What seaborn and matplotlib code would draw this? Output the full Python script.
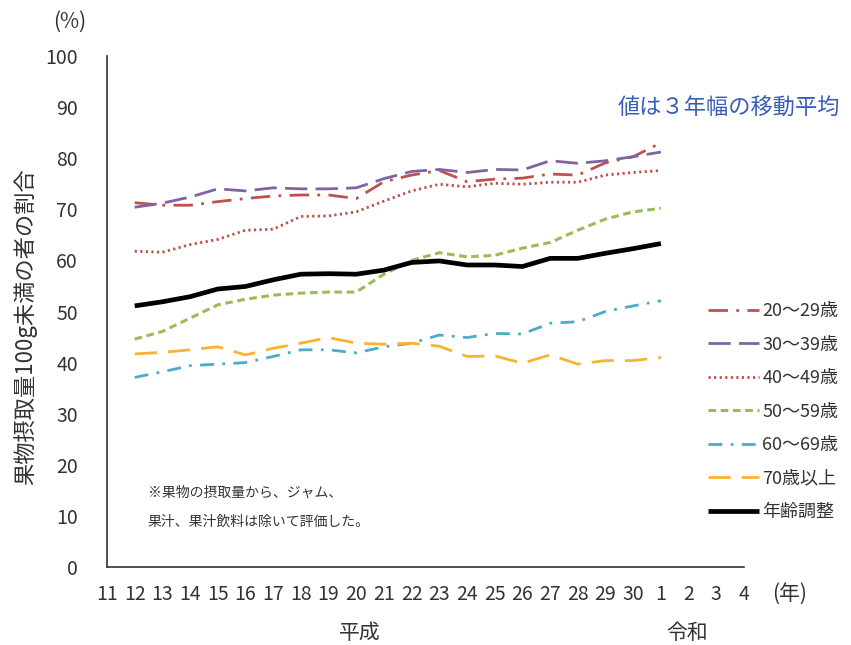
import pandas as pd
import matplotlib
matplotlib.use('Agg')
import matplotlib.pyplot as plt
import seaborn as sns

# --- DATA (3-year moving average) ---
tick_labels = ['11', '12', '13', '14', '15', '16', '17', '18', '19', '20', '21', '22',
               '23', '24', '25', '26', '27', '28', '29', '30', '1', '2', '3', '4']
years = ['12', '13', '14', '15', '16', '17', '18', '19', '20', '21', '22',
         '23', '24', '25', '26', '27', '28', '29', '30', '1']

age_20s = [71.3, 70.8, 70.8, 71.5, 72.1, 72.6, 72.8, 72.8, 72.1, 75.4, 76.7,
           77.6, 75.4, 75.9, 76.1, 76.9, 76.7, 79.1, 80.3, 83.0]
age_30s = [70.4, 71.2, 72.4, 74.0, 73.6, 74.2, 74.0, 74.0, 74.2, 76.0, 77.4,
           77.8, 77.2, 77.8, 77.7, 79.5, 79.0, 79.5, 80.3, 81.2]
age_40s = [61.8, 61.6, 63.1, 64.1, 65.9, 66.1, 68.6, 68.7, 69.5, 71.6, 73.6,
           74.9, 74.4, 75.1, 74.9, 75.3, 75.3, 76.7, 77.2, 77.6]
age_50s = [44.6, 46.1, 48.7, 51.3, 52.4, 53.2, 53.6, 53.8, 53.8, 57.3, 60.0,
           61.5, 60.7, 61.0, 62.4, 63.5, 65.9, 68.1, 69.5, 70.2]
age_60s = [37.1, 38.2, 39.4, 39.7, 40.0, 41.2, 42.5, 42.5, 41.9, 43.1, 43.8,
           45.4, 44.9, 45.7, 45.6, 47.7, 48.0, 50.0, 51.1, 52.1]
age_70p = [41.7, 42.0, 42.5, 43.1, 41.5, 42.8, 43.8, 44.9, 43.8, 43.6, 43.8,
           43.2, 41.2, 41.3, 39.9, 41.5, 39.7, 40.4, 40.4, 41.0]
age_adj = [51.1, 51.9, 52.9, 54.4, 54.9, 56.2, 57.3, 57.4, 57.3, 58.1, 59.6,
           59.9, 59.1, 59.1, 58.8, 60.4, 60.4, 61.4, 62.3, 63.3]

series_names = ['20～29歳', '30～39歳', '40～49歳', '50～59歳', '60～69歳', '70歳以上', '年齢調整']
series_values = [age_20s, age_30s, age_40s, age_50s, age_60s, age_70p, age_adj]

# --- STYLE ---
styles = {
    '20～29歳': dict(color='#C0504D', lw=2.0, ls=(0, (7, 3, 1, 3))),
    '30～39歳': dict(color='#8064A2', lw=2.0, ls=(0, (8, 3))),
    '40～49歳': dict(color='#C0504D', lw=2.0, ls=(0, (0.8, 1.2))),
    '50～59歳': dict(color='#9BBB59', lw=2.2, ls=(0, (2.5, 1.5))),
    '60～69歳': dict(color='#4BACC6', lw=2.0, ls=(0, (5, 3, 1, 3))),
    '70歳以上': dict(color='#F9B233', lw=2.0, ls=(0, (8, 4))),
    '年齢調整': dict(color='black', lw=3.4, ls='-'),
}
text_color = '#333333'

sns.set_style('white')
plt.rcParams['font.family'] = ['Noto Sans CJK JP', 'DejaVu Sans']

fig = plt.figure(figsize=(8.51, 6.45), dpi=100)
ax = fig.add_axes([107 / 851, 1 - 567 / 645, (744 - 107) / 851, (567 - 56) / 645])

for name, vals in zip(series_names, series_values):
    df = pd.DataFrame({'pos': [20 if y == '1' else tick_labels.index(y) for y in years],
                       'val': vals})
    st = styles[name]
    sns.lineplot(data=df, x='pos', y='val', ax=ax, color=st['color'], linewidth=st['lw'],
                 linestyle=st['ls'], label=name, solid_capstyle='butt')

ax.set_xlim(0, len(tick_labels) - 1)
ax.set_ylim(0, 100)
ax.set_xticks(range(len(tick_labels)))
ax.set_xticklabels(tick_labels)
ax.set_yticks(range(0, 101, 10))
ax.set_xlabel('')
ax.set_ylabel('')
for s in ['top', 'right']:
    ax.spines[s].set_visible(False)
for s in ['left', 'bottom']:
    ax.spines[s].set_color(text_color)
    ax.spines[s].set_linewidth(1.2)
ax.tick_params(axis='both', direction='in', length=6, width=1.2, color=text_color,
               labelsize=14, labelcolor=text_color)
ax.tick_params(axis='y', pad=21)
ax.tick_params(axis='x', pad=12)

ax.legend(loc='upper left', bbox_to_anchor=(708 / 851, 1 - 302 / 645),
          bbox_transform=fig.transFigure, frameon=False, fontsize=13,
          borderpad=0, borderaxespad=0,
          handlelength=2.8, handletextpad=0.2, labelspacing=0.86,
          labelcolor=text_color)

fig.text(25 / 851, 1 - 327 / 645, '果物摂取量100g未満の者の割合', rotation=90,
         ha='center', va='center', fontsize=16, color=text_color)
fig.text(70 / 851, 1 - 22 / 645, '(%)', ha='center', va='center', fontsize=15, color=text_color)
fig.text(790 / 851, 1 - 594 / 645, '(年)', ha='center', va='center', fontsize=15, color=text_color)
fig.text(360 / 851, 1 - 633 / 645, '平成', ha='center', va='center', fontsize=15, color=text_color)
fig.text(687 / 851, 1 - 633 / 645, '令和', ha='center', va='center', fontsize=15, color=text_color)
fig.text(840 / 851, 1 - 108 / 645, '値は３年幅の移動平均', ha='right', va='center',
         fontsize=16, color='#3A5DB5')
fig.text(148 / 851, 1 - 493 / 645, '※果物の摂取量から、ジャム、', ha='left', va='center',
         fontsize=10, color=text_color)
fig.text(148 / 851, 1 - 522 / 645, '果汁、果汁飲料は除いて評価した。', ha='left', va='center',
         fontsize=10, color=text_color)

fig.savefig('out.png', dpi=100)
